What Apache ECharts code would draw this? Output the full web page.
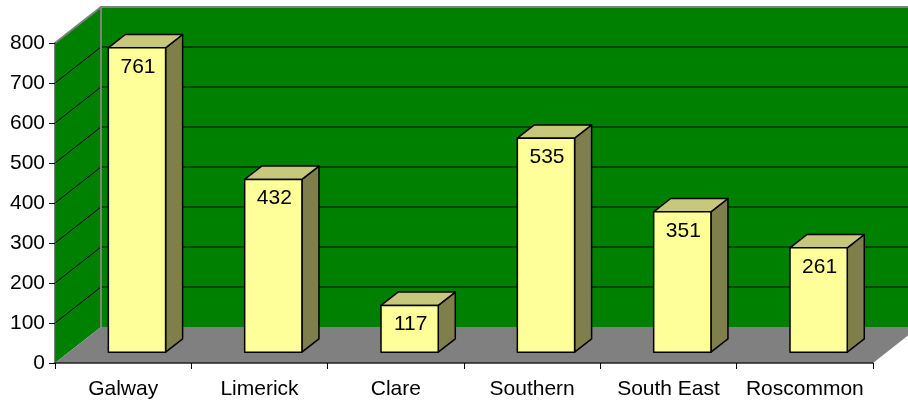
<!DOCTYPE html>
<html>
<head>
<meta charset="utf-8">
<script src="https://cdn.jsdelivr.net/npm/echarts@6/dist/echarts.min.js"></script>
<style>html,body{margin:0;padding:0;background:#fff}#c{width:908px;height:405px}</style>
</head>
<body>
<div id="c"></div>
<script>
const categories = ['Galway', 'Limerick', 'Clare', 'Southern', 'South East', 'Roscommon'];
const values = [761, 432, 117, 535, 351, 261];
const yMin = 0, yMax = 800, yStep = 100;
const gridLevels = [100, 200, 300, 400, 500, 600, 700];

const DX = 46, DY = -36;            // floor depth vector (style)
const FRONT = 0.3, BACK = 0.67;     // bar position within depth
const FONT = 'Liberation Sans, Arial, sans-serif';

const chart = echarts.init(document.getElementById('c'), null, {renderer: 'canvas'});

function renderWalls(params, api) {
  const band = api.size([1, 0])[0];
  const c0 = api.coord([0, yMin]);
  const L = c0[0] - band / 2;
  const R = api.coord([categories.length - 1, yMin])[0] + band / 2;
  const y0 = c0[1];
  const yT = api.coord([0, yMax])[1];
  const children = [];
  children.push({type: 'polygon', shape: {points: [[L, y0], [L, yT], [L + DX, yT + DY], [L + DX, y0 + DY]]}, style: {fill: '#008000'}});
  children.push({type: 'rect', shape: {x: L + DX, y: yT + DY, width: R - L, height: y0 - yT}, style: {fill: '#008000'}});
  children.push({type: 'polygon', shape: {points: [[L, y0], [R, y0], [R + DX, y0 + DY], [L + DX, y0 + DY]]}, style: {fill: '#808080'}});
  gridLevels.forEach(v => {
    const yv = api.coord([0, v])[1];
    children.push({type: 'polyline', shape: {points: [[L, yv], [L + DX, yv + DY], [R + DX, yv + DY]]}, style: {stroke: '#000', lineWidth: 1, fill: null}});
  });
  children.push({type: 'polyline', shape: {points: [[L, yT], [L + DX, yT + DY], [R + DX, yT + DY]]}, style: {stroke: '#808080', lineWidth: 2, fill: null}});
  children.push({type: 'line', shape: {x1: L + DX, y1: yT + DY, x2: L + DX, y2: y0 + DY}, style: {stroke: '#808080', lineWidth: 2}});
  return {type: 'group', children};
}

function renderBar(params, api) {
  const i = api.value(0), v = api.value(1);
  const band = api.size([1, 0])[0];
  const c0 = api.coord([i, 0]);
  const c1 = api.coord([i, v]);
  const w = band * 0.42;
  const fx = c0[0] - w / 2 + DX * FRONT;
  const fyB = c0[1] + DY * FRONT;
  const fyT = c1[1] + DY * FRONT;
  const bdx = DX * (BACK - FRONT), bdy = DY * (BACK - FRONT);
  const st = {stroke: '#000', lineWidth: 1.5, lineJoin: 'round'};
  return {type: 'group', children: [
    {type: 'polygon', shape: {points: [[fx + w, fyT], [fx + w + bdx, fyT + bdy], [fx + w + bdx, fyB + bdy], [fx + w, fyB]]}, style: Object.assign({fill: '#7F7F4C'}, st)},
    {type: 'polygon', shape: {points: [[fx, fyT], [fx + w, fyT], [fx + w + bdx, fyT + bdy], [fx + bdx, fyT + bdy]]}, style: Object.assign({fill: '#C8C87C'}, st)},
    {type: 'rect', shape: {x: fx, y: fyT, width: w, height: fyB - fyT}, style: Object.assign({fill: '#FFFF99'}, st)},
    {type: 'text', x: fx + w / 2 + 1, y: fyT + 19, style: {text: String(v), fill: '#000', font: '21px ' + FONT, align: 'center', verticalAlign: 'middle'}}
  ]};
}

chart.setOption({
  animation: false,
  grid: {left: 55, right: 35, top: 43, bottom: 42},
  xAxis: {
    type: 'category', data: categories, boundaryGap: true, z: 5,
    axisLine: {lineStyle: {color: '#222', width: 1.5}},
    axisTick: {show: true, length: 6, lineStyle: {color: '#000'}},
    axisLabel: {color: '#000', fontSize: 21, fontFamily: FONT, margin: 16, interval: 0},
    splitLine: {show: false}
  },
  yAxis: {
    type: 'value', min: yMin, max: yMax, interval: yStep, z: 5,
    axisLine: {show: true, lineStyle: {color: '#555', width: 1.5}},
    axisTick: {show: true, length: 6, lineStyle: {color: '#000'}},
    axisLabel: {color: '#000', fontSize: 21, fontFamily: FONT, margin: 10},
    splitLine: {show: false}
  },
  series: [
    {type: 'custom', z: 1, clip: false, data: [[0, 0]], renderItem: renderWalls, silent: true},
    {type: 'custom', z: 6, clip: false, data: values.map((v, i) => [i, v]), renderItem: renderBar, silent: true}
  ]
});
</script>
</body>
</html>
